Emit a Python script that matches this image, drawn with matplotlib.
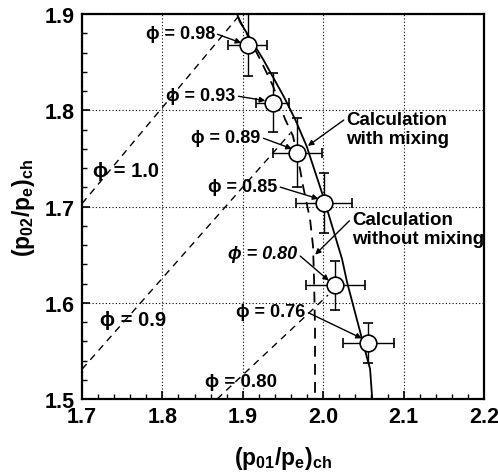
import numpy as np
import matplotlib
matplotlib.use("Agg")
import matplotlib.pyplot as plt
from matplotlib.ticker import MultipleLocator

plt.rcParams['font.family'] = ['Liberation Sans', 'DejaVu Sans']
plt.rcParams['font.weight'] = 'bold'
plt.rcParams['mathtext.fontset'] = 'custom'
plt.rcParams['mathtext.rm'] = 'Liberation Sans:bold'
plt.rcParams['mathtext.it'] = 'Liberation Sans:bold'
plt.rcParams['mathtext.bf'] = 'Liberation Sans:bold'
plt.rcParams['mathtext.default'] = 'rm'

# measured points
phi = ["0.98", "0.93", "0.89", "0.85", "0.80", "0.76"]
x_meas = [1.906, 1.937, 1.968, 2.001, 2.015, 2.056]
y_meas = [1.868, 1.808, 1.756, 1.704, 1.618, 1.558]
x_err = [0.024, 0.020, 0.030, 0.035, 0.037, 0.032]
y_err = [0.032, 0.031, 0.036, 0.031, 0.025, 0.021]

# calculation with mixing (solid)
x_mix = [1.893, 1.8965, 1.9251, 1.9506, 1.9649, 1.9793, 1.9998, 2.0122, 2.0234,
         2.0296, 2.0483, 2.0583, 2.0607, 2.061]
y_mix = [1.900, 1.8917, 1.8532, 1.8148, 1.7909, 1.7629, 1.7109, 1.6766, 1.6455,
         1.6216, 1.5623, 1.5312, 1.5031, 1.500]

# calculation without mixing (dashed)
x_nomix = [1.894, 1.9214, 1.9376, 1.9525, 1.9624, 1.9711, 1.9749, 1.9836, 1.9873,
           1.9886, 1.9898, 1.9898]
y_nomix = [1.8969, 1.8532, 1.8252, 1.7909, 1.7732, 1.7390, 1.7213, 1.6870, 1.6590,
           1.6247, 1.5727, 1.500]

# constant phi lines
phi10_x = [1.700, 1.894]
phi10_y = [1.703, 1.897]
phi09_x = [1.700, 1.959]
phi09_y = [1.531, 1.776]
phi08_x = [1.868, 2.006]
phi08_y = [1.500, 1.608]

fig = plt.figure(figsize=(4.98, 4.77), dpi=100)
ax = fig.add_axes([0.1647, 0.1614, 0.8072, 0.8071])

ax.grid(True, which='major', linestyle=(0, (1, 2)), color='k', linewidth=0.8)
ax.set_axisbelow(True)

dash = (0, (5, 4))
ax.plot(phi10_x, phi10_y, color='k', lw=1.0, linestyle=dash)
ax.plot(phi09_x, phi09_y, color='k', lw=1.0, linestyle=dash)
ax.plot(phi08_x, phi08_y, color='k', lw=1.0, linestyle=dash)
ax.plot(x_nomix, y_nomix, color='k', lw=1.3, linestyle=(0, (6, 4)))
ax.plot(x_mix, y_mix, color='k', lw=1.3)

ax.errorbar(x_meas, y_meas, xerr=x_err, yerr=y_err, fmt='o', ms=12, mfc='white',
            mec='k', mew=1.2, ecolor='k', elinewidth=1.0, capsize=3.5, capthick=1.0,
            zorder=5)

arr = dict(arrowstyle='-|>', color='k', lw=1.0, mutation_scale=8, shrinkA=0, shrinkB=0)

# labels for measured points: (text x, text y, arrow x, arrow y)
lab_pos = [(1.779, 1.880, 1.898, 1.870),
           (1.805, 1.815, 1.928, 1.810),
           (1.836, 1.772, 1.961, 1.760),
           (1.857, 1.721, 1.994, 1.708),
           (1.882, 1.651, 2.007, 1.623),
           (1.892, 1.591, 2.048, 1.563)]
for p, (tx, ty, axx, ayy) in zip(phi, lab_pos):
    style = 'italic' if p == "0.80" else 'normal'
    ax.annotate("\u03d5 = " + p, xy=(axx, ayy), xytext=(tx, ty), fontsize=13,
                fontweight='bold', style=style, ha='left', va='center',
                arrowprops=dict(arr, relpos=(1.0, 0.5)))

ax.text(1.714, 1.737, "\u03d5 = 1.0", fontsize=14.5, fontweight='bold', ha='left', va='center')
ax.text(1.722, 1.583, "\u03d5 = 0.9", fontsize=14.5, fontweight='bold', ha='left', va='center')
ax.text(1.853, 1.518, "\u03d5 = 0.80", fontsize=13.5, fontweight='bold', ha='left', va='center')

ax.annotate("Calculation\nwith mixing", xy=(1.981, 1.763), xytext=(2.029, 1.7805),
            fontsize=13.5, fontweight='bold', ha='left', va='center',
            arrowprops=dict(arr, relpos=(0.0, 0.8)))
ax.annotate("Calculation\nwithout mixing", xy=(1.990, 1.650), xytext=(2.036, 1.6766),
            fontsize=13.5, fontweight='bold', ha='left', va='center',
            arrowprops=dict(arr, relpos=(0.0, 0.8)))

ax.set_xlim(1.7, 2.2)
ax.set_ylim(1.5, 1.9)
ax.set_xticks(np.arange(1.7, 2.21, 0.1))
ax.set_xticklabels(["1.7", "1.8", "1.9", "2.0", "2.1", "2.2"])
ax.set_yticks(np.arange(1.5, 1.91, 0.1))
ax.set_yticklabels(["1.5", "1.6", "1.7", "1.8", "1.9"])
ax.xaxis.set_minor_locator(MultipleLocator(0.02))
ax.yaxis.set_minor_locator(MultipleLocator(0.02))
ax.tick_params(which='major', direction='in', length=6, width=1.2, labelsize=15.5, pad=5)
ax.tick_params(which='minor', direction='in', length=3.5, width=1.0)
for lab in ax.get_xticklabels() + ax.get_yticklabels():
    lab.set_fontweight('bold')
for s in ax.spines.values():
    s.set_linewidth(1.6)

ax.set_xlabel("$(p_{01}/p_e)_{ch}$", fontsize=16.5, labelpad=12)
ax.set_ylabel("$(p_{02}/p_e)_{ch}$", fontsize=16.5, labelpad=6)

fig.savefig("out.png", dpi=100)
